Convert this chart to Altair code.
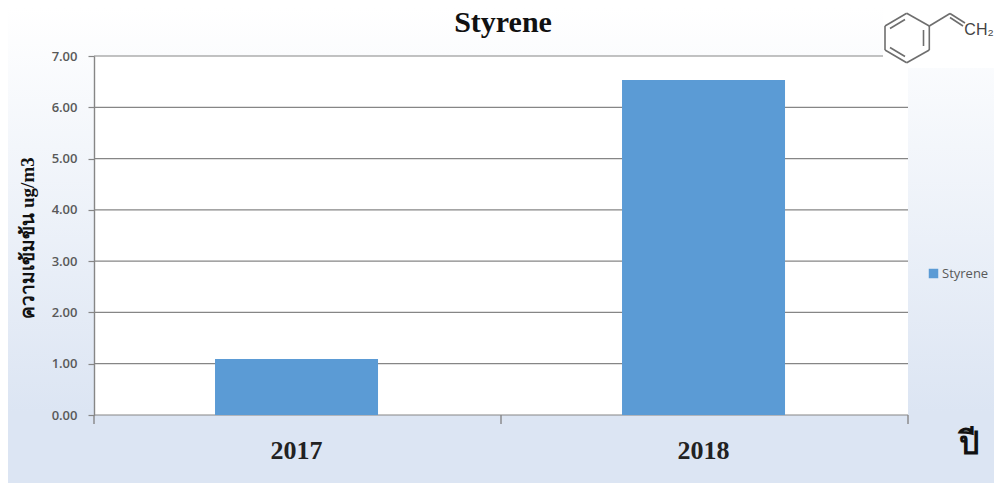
import altair as alt
import pandas as pd

years = ["2017", "2018"]
values = [1.09, 6.53]
series = "Styrene"
y_ticks = [0, 1, 2, 3, 4, 5, 6, 7]
x_bounds = [0, 1, 2]

W, H = 814, 359
L, T, R, B = 86, 48, 86, 68

one = pd.DataFrame({"a": [0]})
df = pd.DataFrame({"year": years, "value": values, "series": [series] * 2})

grad = alt.Gradient(gradient="linear", x1=0, x2=0, y1=0, y2=1,
                    stops=[alt.GradientStop(color="#ffffff", offset=0),
                           alt.GradientStop(color="#dce5f3", offset=0.85),
                           alt.GradientStop(color="#dce5f3", offset=1)])


def box(color, x, x2, y, y2):
    return alt.Chart(one).mark_rect(color=color).encode(
        x=alt.value(x), x2=alt.value(x2), y=alt.value(y), y2=alt.value(y2))


def seg(x, y, x2, y2, c="#6e6e6e", w=1.6):
    return alt.Chart(one).mark_rule(color=c, strokeWidth=w).encode(
        x=alt.value(x - 94), x2=alt.value(x2 - 94), y=alt.value(y - 56), y2=alt.value(y2 - 56))


def label(text, x, y, **kw):
    return alt.Chart(one).mark_text(text=text, **kw).encode(
        x=alt.value(x - 94), y=alt.value(y - 56))


bg = box(grad, -L, W + R, -T, H + B)
plot_bg = box("#ffffff", 0, W, 0, H)

yscale = alt.Scale(domain=[0, 7], nice=False)
yaxis = alt.Axis(values=y_ticks, format=".2f", grid=False, zindex=1,
                 title="ความเข้มข้น ug/m3", titleFont="Liberation Serif", titleFontWeight="bold",
                 titleFontSize=19, titleColor="#111111", titleX=-57, titleY=H / 2 + 2,
                 labelFont="Open Sans", labelFontSize=13, labelFontWeight=600, labelColor="#595959",
                 labelPadding=11,
                 domainColor="#868686", domainWidth=1.4, tickColor="#868686", tickWidth=1.2, tickSize=6)

grid = alt.Chart(pd.DataFrame({"t": y_ticks})).mark_rule(color="#868686", strokeWidth=1.2).encode(
    y=alt.Y("t:Q", scale=yscale, axis=yaxis),
    x=alt.value(0), x2=alt.value(W))

bars = alt.Chart(df).mark_bar(size=163).encode(
    x=alt.X("year:N", sort=years,
            scale=alt.Scale(paddingInner=0.6, paddingOuter=0.3, align=0.496),
            axis=alt.Axis(title="ปี", titleFontSize=32, titleFont="Noto Sans", titleFontWeight="bold",
                          titleColor="#111111", titleX=W + 60, titleY=28, titleAlign="center",
                          titleBaseline="middle",
                          labelAngle=0, labelFont="Liberation Serif", labelFontWeight="bold",
                          labelFontSize=26, labelColor="#222222", labelPadding=22,
                          ticks=False, domain=False, zindex=1)),
    y=alt.Y("value:Q", scale=yscale, axis=yaxis),
    color=alt.Color("series:N", scale=alt.Scale(domain=[series], range=["#5B9BD5"]),
                    legend=alt.Legend(title=None, orient="none", legendX=W + 19, legendY=211,
                                      symbolType="square", symbolSize=90, symbolStrokeWidth=0,
                                      labelFont="Open Sans", labelFontSize=13, labelColor="#595959",
                                      labelOffset=2)),
)

x_ticks = alt.Chart(pd.DataFrame({"b": x_bounds})).mark_rule(color="#868686", strokeWidth=1.4).encode(
    x=alt.X("b:Q", scale=alt.Scale(domain=[0, 2], nice=False), axis=None),
    y=alt.value(H), y2=alt.value(H + 9))

mol_box = box("#ffffff", 883 - 94, W + R, -T, 68 - 56)

molecule = [
    seg(906.7, 13.3, 929.3, 26), seg(929.3, 26, 929.3, 50), seg(929.3, 50, 906.7, 62.7),
    seg(906.7, 62.7, 885, 50), seg(885, 50, 885, 26), seg(885, 26, 906.7, 13.3),
    seg(890, 28.5, 905, 19.5), seg(923.5, 30, 923.5, 46), seg(890, 47.5, 905, 56.5),
    seg(929.3, 26, 950, 13.5), seg(950, 13.5, 965, 23), seg(950, 17.5, 963, 26),
]
ch2 = label("CH₂", 979, 30, font="Liberation Sans", fontSize=16, color="#444444")

chart = alt.layer(bg, plot_bg, grid, bars, x_ticks, mol_box, *molecule, ch2).resolve_scale(
    x="independent"
).properties(
    width=W, height=H,
    title=alt.TitleParams("Styrene", font="Liberation Serif", fontWeight="bold", fontSize=30,
                          color="#111111", anchor="middle", dx=2, offset=-30, zindex=1),
    padding={"left": L, "top": T, "right": R, "bottom": B},
    autosize=alt.AutoSizeParams(type="none"),
).configure_view(stroke=None)

chart.save("out.html", embed_options={"renderer": "svg", "actions": False})
